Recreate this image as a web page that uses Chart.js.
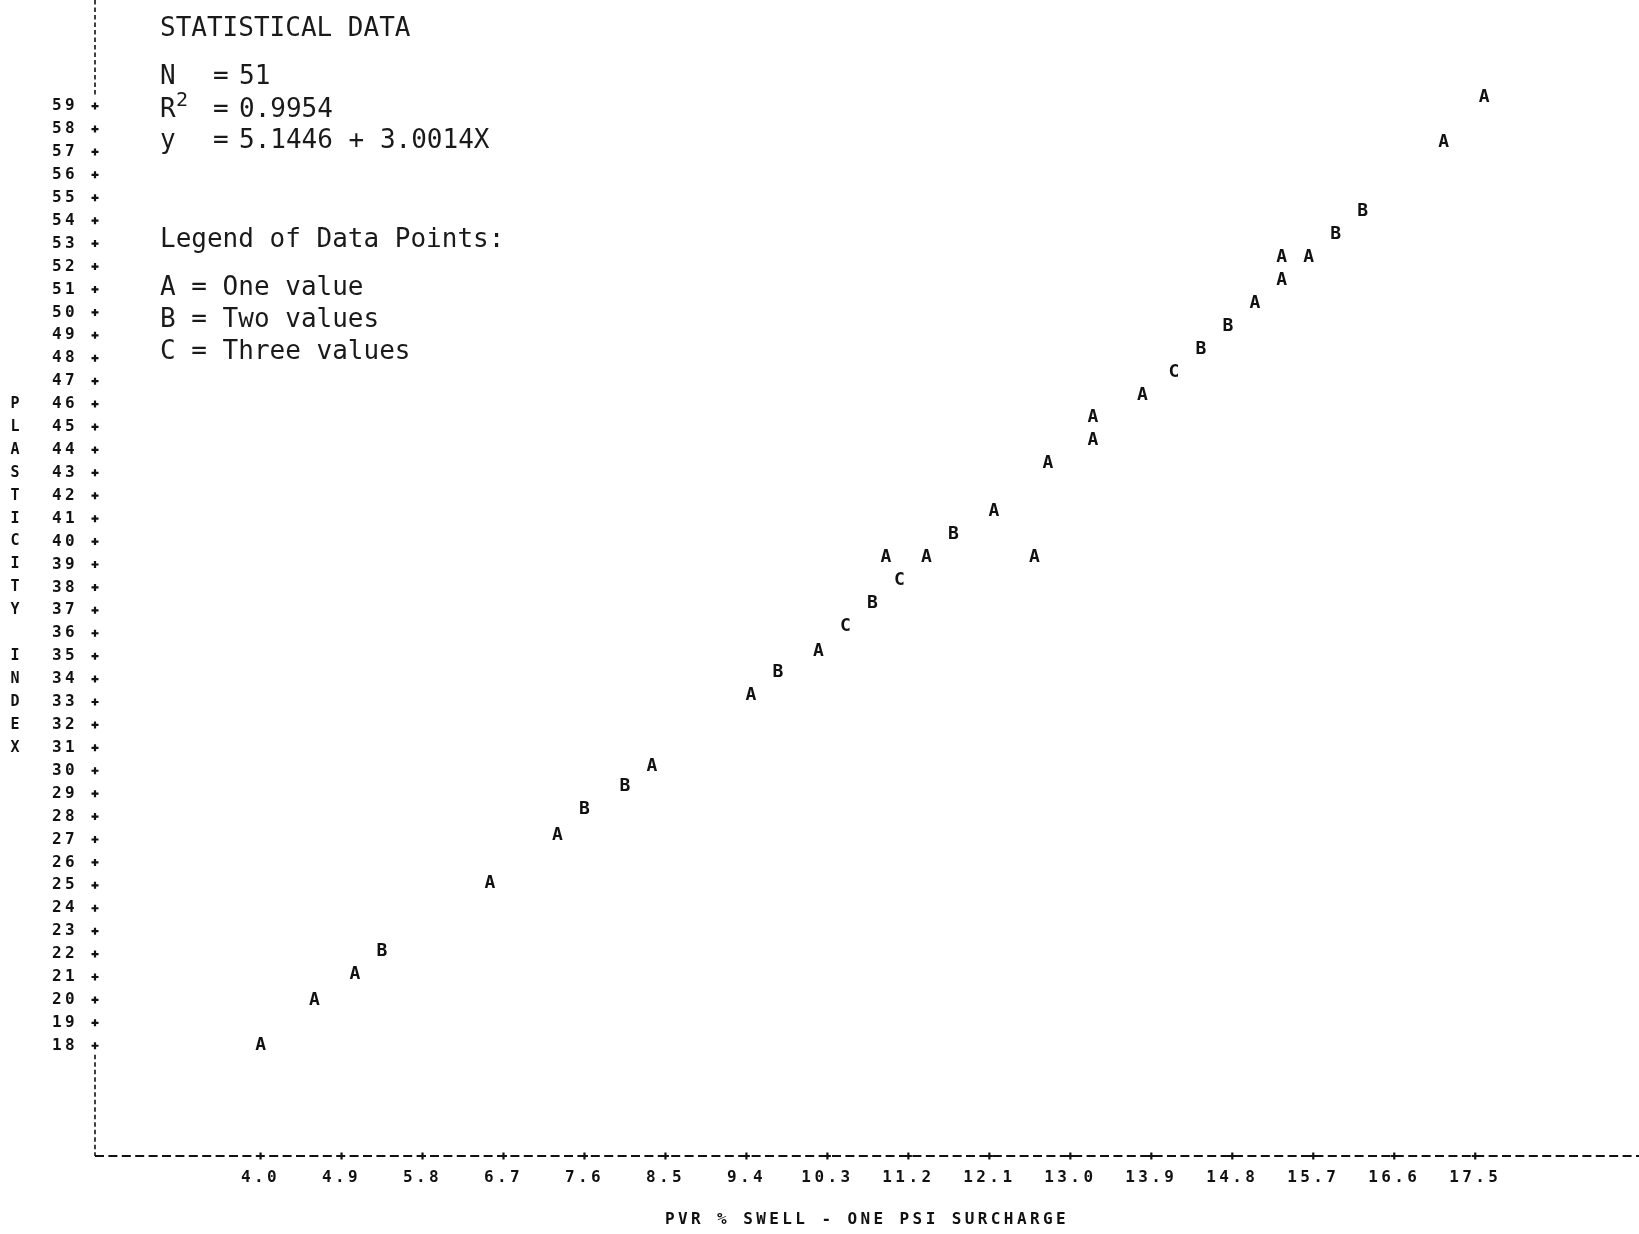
<!DOCTYPE html>
<html>
<head>
<meta charset="utf-8">
<script src="https://cdn.jsdelivr.net/npm/chart.js@4/dist/chart.umd.min.js"></script>
<style>
  html, body { margin: 0; padding: 0; background: #fff; }
  #wrap { position: relative; width: 1639px; height: 1234px; }
</style>
</head>
<body>
<div id="wrap"><canvas id="plot"></canvas></div>
<script>
// Axis tick values
const swellTicks = [4.0, 4.9, 5.8, 6.7, 7.6, 8.5, 9.4, 10.3, 11.2, 12.1, 13.0, 13.9, 14.8, 15.7, 16.6, 17.5];
const piTicks = [18, 19, 20, 21, 22, 23, 24, 25, 26, 27, 28, 29, 30, 31, 32, 33, 34, 35, 36, 37, 38,
                 39, 40, 41, 42, 43, 44, 45, 46, 47, 48, 49, 50, 51, 52, 53, 54, 55, 56, 57, 58, 59];

// Plotted observations: A = one value, B = two values, C = three values
const swellA = [4.0,  4.6,  5.05, 6.55, 7.3,  8.35, 9.45, 10.2, 10.95, 11.4, 12.15, 12.6, 12.75, 13.25, 13.25, 13.8, 15.05, 15.35, 15.35, 15.65, 17.15, 17.6];
const piA    = [18.0, 20.0, 21.1, 25.1, 27.2, 30.2, 33.3, 35.2, 39.3,  39.3, 41.3,  39.3, 43.4,  44.4,  45.4,  46.4, 50.4,  51.4,  52.4,  52.4,  57.4,  59.4];
const swellB = [5.35, 7.6,  8.05, 9.75, 10.8, 11.7, 14.45, 14.75, 15.95, 16.25];
const piB    = [22.1, 28.3, 29.3, 34.3, 37.3, 40.3, 48.4,  49.4,  53.4,  54.4];
const swellC = [10.5, 11.1, 14.15];
const piC    = [36.3, 38.3, 47.4];

// Text
const xTitle = 'PVR % SWELL - ONE PSI SURCHARGE';
const yTitle = 'PLASTICITY INDEX';
const yTitleStartRow = 46;
const statHeading = 'STATISTICAL DATA';
const statN = '51';
const statR2 = '0.9954';
const statEq = '5.1446 + 3.0014X';
const legendHeading = 'Legend of Data Points:';
const legendLines = ['A = One value', 'B = Two values', 'C = Three values'];

const INK = '#111';
const tickFont = { family: 'DejaVu Sans Mono', size: 16, weight: 'bold' };

function pairs(xs, ys) { return xs.map((x, i) => ({ x: x, y: ys[i] })); }

function noScalePadding(s) {
  s.paddingTop = 0; s.paddingBottom = 0; s.paddingLeft = 0; s.paddingRight = 0;
}

// Printer-style axes: dashed rules with '+' at each tick
const printerAxes = {
  id: 'printerAxes',
  beforeDraw(chart) {
    chart.ctx.letterSpacing = '3.4px';
  },
  afterDraw(chart) {
    const { ctx, chartArea: a, scales: { x, y } } = chart;
    ctx.save();
    ctx.letterSpacing = '0px';
    ctx.strokeStyle = INK;

    // horizontal rule
    ctx.lineWidth = 2.2;
    ctx.setLineDash([9, 4.4]);
    ctx.beginPath();
    ctx.moveTo(a.left, a.bottom);
    ctx.lineTo(a.right, a.bottom);
    ctx.stroke();

    // vertical rule above the top tick and below the bottom tick
    ctx.lineWidth = 1.6;
    ctx.setLineDash([4.5, 3]);
    const yTop = y.getPixelForValue(piTicks[piTicks.length - 1]) - 9;
    const yBot = y.getPixelForValue(piTicks[0]) + 9;
    ctx.beginPath();
    ctx.moveTo(a.left, a.top);
    ctx.lineTo(a.left, yTop);
    ctx.moveTo(a.left, yBot);
    ctx.lineTo(a.left, a.bottom);
    ctx.stroke();
    ctx.setLineDash([]);

    // plus marks
    ctx.lineWidth = 2.2;
    const plus = (px, py) => {
      ctx.beginPath();
      ctx.moveTo(px - 3.5, py); ctx.lineTo(px + 3.5, py);
      ctx.moveTo(px, py - 3.5); ctx.lineTo(px, py + 3.5);
      ctx.stroke();
    };
    swellTicks.forEach(v => plus(x.getPixelForValue(v), a.bottom));
    piTicks.forEach(v => plus(a.left, y.getPixelForValue(v)));

    // stacked vertical axis title
    ctx.fillStyle = INK;
    ctx.font = 'bold 15px "DejaVu Sans Mono"';
    ctx.textAlign = 'center';
    ctx.textBaseline = 'middle';
    yTitle.split('').forEach((ch, i) => {
      if (ch !== ' ') ctx.fillText(ch, 15, y.getPixelForValue(yTitleStartRow - i));
    });

    // statistics block
    ctx.font = '26px "DejaVu Sans Mono"';
    ctx.textAlign = 'left';
    ctx.fillStyle = '#1a1a1a';
    const lx = 160, ex = 213, vx = 239;
    ctx.fillText(statHeading, lx, 29);
    ctx.fillText('N', lx, 77); ctx.fillText('=', ex, 77); ctx.fillText(statN, vx, 77);
    ctx.fillText('R', lx, 110);
    ctx.font = '20px "DejaVu Sans Mono"';
    ctx.fillText('2', lx + 16, 101);
    ctx.font = '26px "DejaVu Sans Mono"';
    ctx.fillText('=', ex, 110); ctx.fillText(statR2, vx, 110);
    ctx.fillText('y', lx, 141); ctx.fillText('=', ex, 141); ctx.fillText(statEq, vx, 141);
    ctx.fillText(legendHeading, lx, 240);
    legendLines.forEach((t, i) => ctx.fillText(t, lx, 288 + i * 32));
    ctx.restore();
  },
  afterDatasetsDraw(chart) {
    const ctx = chart.ctx;
    ctx.save();
    ctx.letterSpacing = '0px';
    ctx.fillStyle = INK;
    ctx.font = 'bold 18px "DejaVu Sans Mono"';
    ctx.textAlign = 'center';
    ctx.textBaseline = 'middle';
    chart.data.datasets.forEach((ds, i) => {
      chart.getDatasetMeta(i).data.forEach(pt => ctx.fillText(ds.label, pt.x, pt.y));
    });
    ctx.restore();
  }
};

new Chart(document.getElementById('plot'), {
  type: 'scatter',
  data: {
    datasets: [
      { label: 'A', data: pairs(swellA, piA), pointRadius: 0 },
      { label: 'B', data: pairs(swellB, piB), pointRadius: 0 },
      { label: 'C', data: pairs(swellC, piC), pointRadius: 0 }
    ]
  },
  options: {
    responsive: true,
    maintainAspectRatio: false,
    animation: false,
    layout: { padding: 0 },
    plugins: { legend: { display: false }, tooltip: { enabled: false } },
    scales: {
      x: {
        type: 'linear',
        min: 2.16,
        max: 19.32,
        grid: { display: false, drawTicks: false },
        border: { display: false },
        afterBuildTicks: s => { s.ticks = swellTicks.map(v => ({ value: v })); },
        afterFit: s => { s.height = 78; noScalePadding(s); },
        ticks: {
          autoSkip: false, maxRotation: 0, padding: 12, color: INK, font: tickFont,
          callback: v => Number(v).toFixed(1)
        },
        title: {
          display: true, text: xTitle, color: INK,
          font: { family: 'DejaVu Sans Mono', size: 16, weight: 'bold' },
          padding: { top: 0, bottom: 5 }
        }
      },
      y: {
        type: 'linear',
        min: 13.19,
        max: 63.63,
        grid: { display: false, drawTicks: false },
        border: { display: false },
        afterBuildTicks: s => { s.ticks = piTicks.map(v => ({ value: v })); },
        afterFit: s => { s.width = 95; noScalePadding(s); },
        ticks: {
          autoSkip: false, padding: 17, color: INK, font: tickFont,
          callback: v => String(v)
        }
      }
    }
  },
  plugins: [printerAxes]
});
</script>
</body>
</html>
